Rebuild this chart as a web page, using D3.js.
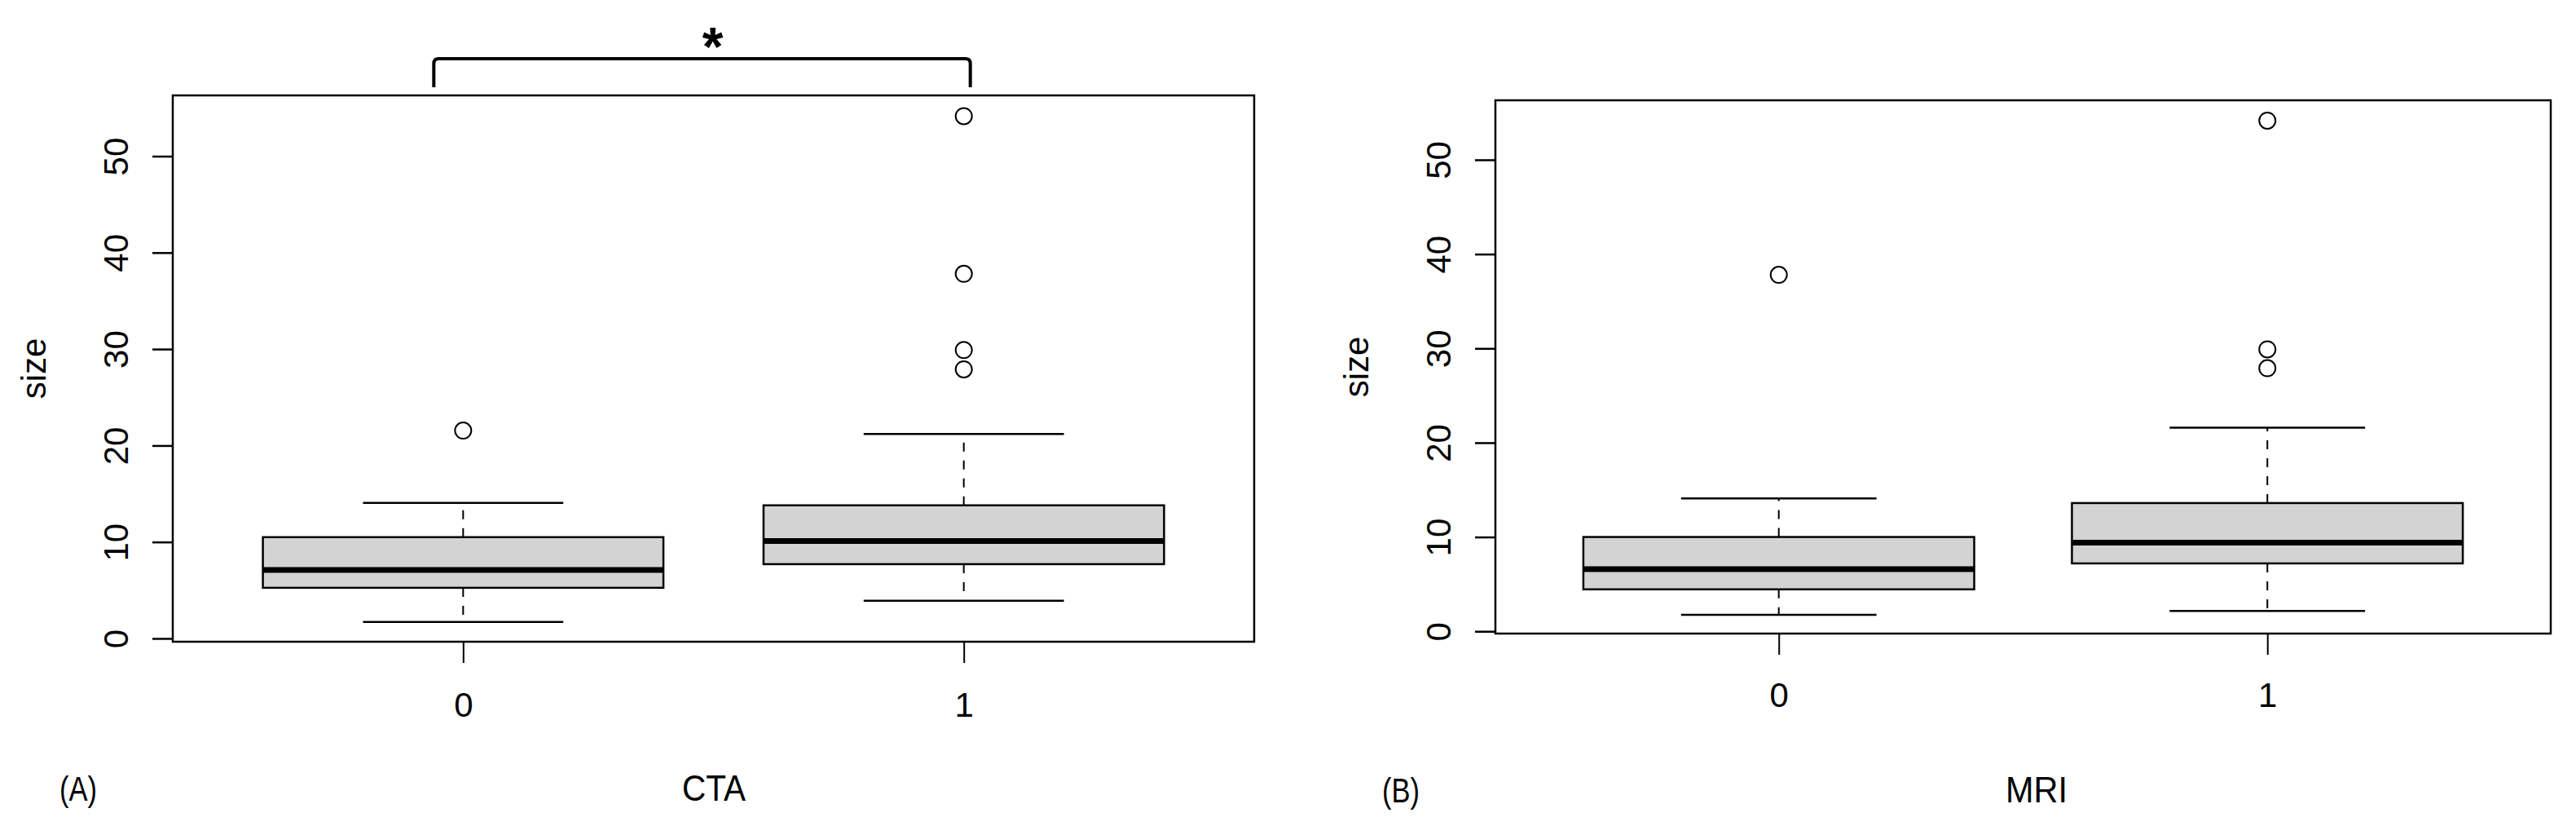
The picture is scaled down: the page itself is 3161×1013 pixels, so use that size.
<!DOCTYPE html>
<meta charset="utf-8">
<script src="https://d3js.org/d3.v7.min.js"></script>
<style type="text/css">
body { margin: 0; background: #fff; }
svg { display: block; }
text { font-family: "Liberation Sans", Arial, Helvetica, sans-serif; fill: #000; }
</style>
<body>
</body>
<script>

// groups on the x axis
var categories = ["0", "1"];
var yTicks = [0, 10, 20, 30, 40, 50];

// CTA boxplot stats
var ctaLower  = [1.7, 3.9];
var ctaQ1     = [5.25, 7.7];
var ctaMedian = [7.1, 10.1];
var ctaQ3     = [10.5, 13.8];
var ctaUpper  = [14.05, 21.2];
var ctaOut    = [[21.55], [54.15, 37.8, 29.9, 27.9]];

// MRI boxplot stats
var mriLower  = [1.75, 2.15];
var mriQ1     = [4.45, 7.2];
var mriMedian = [6.6, 9.4];
var mriQ3     = [10.0, 13.6];
var mriUpper  = [14.1, 21.6];
var mriOut    = [[37.8], [54.15, 29.9, 27.9]];

function stats(lo, q1, med, q3, hi, out) {
  return categories.map(function(c, i) {
    return {cat: c, lo: lo[i], q1: q1[i], med: med[i], q3: q3[i], hi: hi[i], out: out[i]};
  });
}

var panels = [
  {data: stats(ctaLower, ctaQ1, ctaMedian, ctaQ3, ctaUpper, ctaOut),
   left: 212, right: 1539, top: 117, bottom: 787, yDomain: [-0.34, 56.3],
   label: "CTA", labelX: 876, labelW: 78, tag: "(A)", tagX: 73, labelY: 982, tickLabelY: 92, bracket: true},
  {data: stats(mriLower, mriQ1, mriMedian, mriQ3, mriUpper, mriOut),
   left: 1835, right: 3130, top: 123, bottom: 777, yDomain: [-0.24, 56.31],
   label: "MRI", labelX: 2499, labelW: 76, tag: "(B)", tagX: 1696, labelY: 984, tickLabelY: 90, bracket: false}
];

var svg = d3.select("body").append("svg")
    .attr("width", 3161)
    .attr("height", 1013);

panels.forEach(function(p) {
  var x = d3.scalePoint().domain(categories).range([p.left, p.right]).padding(0.58);
  var y = d3.scaleLinear().domain(p.yDomain).range([p.bottom, p.top]);
  var step = x.step();
  var boxW = 0.8 * step, capW = 0.4 * step;

  var g = svg.append("g");

  // y axis
  var ya = g.append("g")
      .attr("transform", "translate(" + p.left + ",0)")
      .call(d3.axisLeft(y).tickValues(yTicks).tickSize(25).tickFormat(d3.format("d")));
  ya.select(".domain").remove();
  ya.selectAll("line").attr("stroke", "#000").attr("stroke-width", 2.5);
  ya.selectAll("text")
      .attr("x", null).attr("dy", null)
      .attr("transform", "translate(-55,0) rotate(-90)")
      .attr("text-anchor", "middle")
      .style("font-size", "42px");

  // x axis
  var xa = g.append("g")
      .attr("transform", "translate(0," + p.bottom + ")")
      .call(d3.axisBottom(x).tickSize(26));
  xa.select(".domain").remove();
  xa.selectAll("line").attr("stroke", "#000").attr("stroke-width", 2);
  xa.selectAll("text")
      .attr("y", p.tickLabelY).attr("dy", null)
      .style("font-size", "42px");

  // boxes
  var b = g.selectAll(".box").data(p.data).enter().append("g").attr("class", "box");

  b.append("line") // upper whisker
      .attr("x1", function(d) { return x(d.cat); }).attr("x2", function(d) { return x(d.cat); })
      .attr("y1", function(d) { return y(d.q3); }).attr("y2", function(d) { return y(d.hi); })
      .attr("stroke", "#000").attr("stroke-width", 2).attr("stroke-dasharray", "11,11");
  b.append("line") // lower whisker
      .attr("x1", function(d) { return x(d.cat); }).attr("x2", function(d) { return x(d.cat); })
      .attr("y1", function(d) { return y(d.q1); }).attr("y2", function(d) { return y(d.lo); })
      .attr("stroke", "#000").attr("stroke-width", 2).attr("stroke-dasharray", "11,11");

  ["hi", "lo"].forEach(function(k) {
    b.append("line")
        .attr("x1", function(d) { return x(d.cat) - capW / 2; })
        .attr("x2", function(d) { return x(d.cat) + capW / 2; })
        .attr("y1", function(d) { return y(d[k]); }).attr("y2", function(d) { return y(d[k]); })
        .attr("stroke", "#000").attr("stroke-width", 2.5);
  });

  b.append("rect")
      .attr("x", function(d) { return x(d.cat) - boxW / 2; })
      .attr("width", boxW)
      .attr("y", function(d) { return y(d.q3); })
      .attr("height", function(d) { return y(d.q1) - y(d.q3); })
      .attr("fill", "#d3d3d3").attr("stroke", "#000").attr("stroke-width", 2.5);

  b.append("line") // median
      .attr("x1", function(d) { return x(d.cat) - boxW / 2; })
      .attr("x2", function(d) { return x(d.cat) + boxW / 2; })
      .attr("y1", function(d) { return y(d.med); }).attr("y2", function(d) { return y(d.med); })
      .attr("stroke", "#000").attr("stroke-width", 7);

  b.selectAll("circle")
      .data(function(d) { return d.out.map(function(v) { return {cat: d.cat, v: v}; }); })
      .enter().append("circle")
      .attr("cx", function(d) { return x(d.cat); })
      .attr("cy", function(d) { return y(d.v); })
      .attr("r", 10)
      .attr("fill", "none").attr("stroke", "#000").attr("stroke-width", 2);

  // frame
  g.append("rect")
      .attr("x", p.left).attr("y", p.top)
      .attr("width", p.right - p.left).attr("height", p.bottom - p.top)
      .attr("fill", "none").attr("stroke", "#000").attr("stroke-width", 2.5);

  // y title
  g.append("text")
      .attr("transform", "translate(" + (p.left - 156) + "," + ((p.top + p.bottom) / 2) + ") rotate(-90)")
      .attr("text-anchor", "middle")
      .style("font-size", "42px")
      .text("size");

  // x title + panel tag
  g.append("text")
      .attr("x", p.labelX - p.labelW / 2).attr("y", p.labelY)
      .attr("textLength", p.labelW).attr("lengthAdjust", "spacingAndGlyphs")
      .style("font-size", "45px")
      .text(p.label);
  g.append("text")
      .attr("x", p.tagX).attr("y", p.labelY)
      .attr("textLength", 46).attr("lengthAdjust", "spacingAndGlyphs")
      .style("font-size", "42px")
      .text(p.tag);

  // significance bracket between the two groups
  if (p.bracket) {
    var x0 = x(categories[0]) - 36, x1 = x(categories[1]) + 8, yb = 72, ye = 107, r = 6;
    g.append("path")
        .attr("d", "M" + x0 + "," + ye + "L" + x0 + "," + (yb + r) + "Q" + x0 + "," + yb + " " + (x0 + r) + "," + yb +
                   "L" + (x1 - r) + "," + yb + "Q" + x1 + "," + yb + " " + x1 + "," + (yb + r) + "L" + x1 + "," + ye)
        .attr("fill", "none").attr("stroke", "#000").attr("stroke-width", 4);
    g.append("text")
        .attr("x", (x0 + x1) / 2 + 13).attr("y", 80)
        .attr("text-anchor", "middle")
        .style("font-size", "66px").style("font-weight", "bold")
        .text("*");
  }
});

</script>
